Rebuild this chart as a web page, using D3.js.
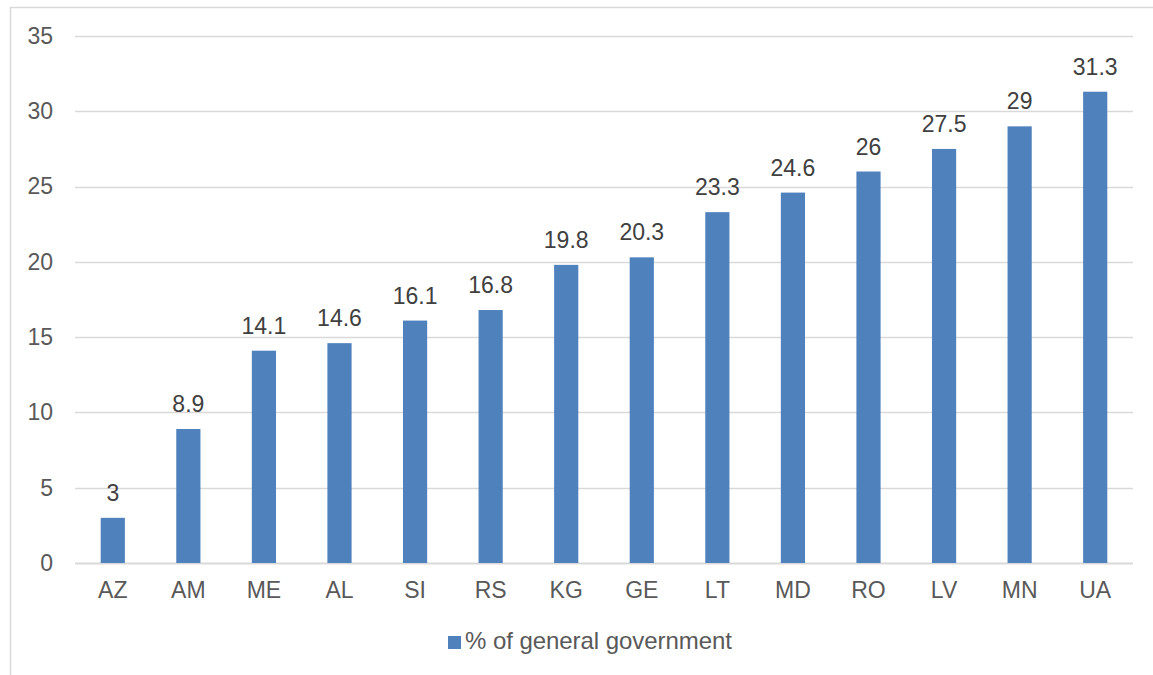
<!DOCTYPE html>
<html>
<head>
<meta charset="utf-8">
<script src="https://cdn.jsdelivr.net/npm/d3@7"></script>
<style>
  html, body { margin: 0; padding: 0; background: #fff; }
  svg { display: block; font-family: "Liberation Sans", Arial, sans-serif; }
</style>
</head>
<body>
<svg id="chart" width="1153" height="675"></svg>
<script>
// Share of general government, by country
const countries = ["AZ", "AM", "ME", "AL", "SI", "RS", "KG", "GE", "LT", "MD", "RO", "LV", "MN", "UA"];
const shares = [3, 8.9, 14.1, 14.6, 16.1, 16.8, 19.8, 20.3, 23.3, 24.6, 26, 27.5, 29, 31.3];
const yTicks = [0, 5, 10, 15, 20, 25, 30, 35];
const seriesName = "% of general government";

const barColor = "#4f81bd";
const textColor = "#595959";
const gridColor = "#d9d9d9";
const fontSize = 23;

const svg = d3.select("#chart");

// outer frame
svg.append("rect")
  .attr("x", 10.5).attr("y", 7.5)
  .attr("width", 1160).attr("height", 700)
  .attr("fill", "none")
  .attr("stroke", gridColor)
  .attr("stroke-width", 1.5);

const plot = { left: 75, right: 1133, top: 36, bottom: 563 };

const x = d3.scaleBand()
  .domain(countries)
  .range([plot.left, plot.right])
  .paddingInner(0.68)
  .paddingOuter(0.34);

const y = d3.scaleLinear()
  .domain([0, 35])
  .range([plot.bottom, plot.top]);

// horizontal gridlines
svg.append("g")
  .selectAll("line")
  .data(yTicks)
  .join("line")
  .attr("x1", plot.left).attr("x2", plot.right)
  .attr("y1", d => Math.round(y(d)) + 0.5)
  .attr("y2", d => Math.round(y(d)) + 0.5)
  .attr("stroke", gridColor)
  .attr("stroke-width", d => d === 0 ? 2 : 1.5);

// y axis labels
const yAxis = d3.axisLeft(y).tickValues(yTicks).tickSize(0).tickPadding(22);
const yg = svg.append("g")
  .attr("transform", `translate(${plot.left},0)`)
  .call(yAxis);
yg.select(".domain").remove();
yg.selectAll("text")
  .attr("fill", textColor)
  .attr("font-size", fontSize)
  .attr("font-family", "Liberation Sans, Arial, sans-serif");

// bars
svg.append("g")
  .selectAll("rect")
  .data(countries)
  .join("rect")
  .attr("x", d => x(d))
  .attr("width", x.bandwidth())
  .attr("y", (d, i) => y(shares[i]))
  .attr("height", (d, i) => y(0) - y(shares[i]))
  .attr("fill", barColor);

// value labels
svg.append("g")
  .selectAll("text")
  .data(countries)
  .join("text")
  .attr("x", d => x(d) + x.bandwidth() / 2)
  .attr("y", (d, i) => y(shares[i]) - 17)
  .attr("text-anchor", "middle")
  .attr("fill", "#404040")
  .attr("font-size", fontSize)
  .text((d, i) => shares[i]);

// x axis labels
const xAxis = d3.axisBottom(x).tickSize(0).tickPadding(19);
const xg = svg.append("g")
  .attr("transform", `translate(0,${plot.bottom})`)
  .call(xAxis);
xg.select(".domain").remove();
xg.selectAll("text")
  .attr("fill", textColor)
  .attr("font-size", fontSize)
  .attr("font-family", "Liberation Sans, Arial, sans-serif");

// legend
const legend = svg.append("g").attr("transform", "translate(448,636)");
legend.append("rect")
  .attr("width", 13).attr("height", 13)
  .attr("fill", barColor);
legend.append("text")
  .attr("x", 17).attr("y", 13)
  .attr("fill", textColor)
  .attr("font-size", 24)
  .attr("textLength", 267)
  .attr("lengthAdjust", "spacing")
  .text(seriesName);
</script>
</body>
</html>
